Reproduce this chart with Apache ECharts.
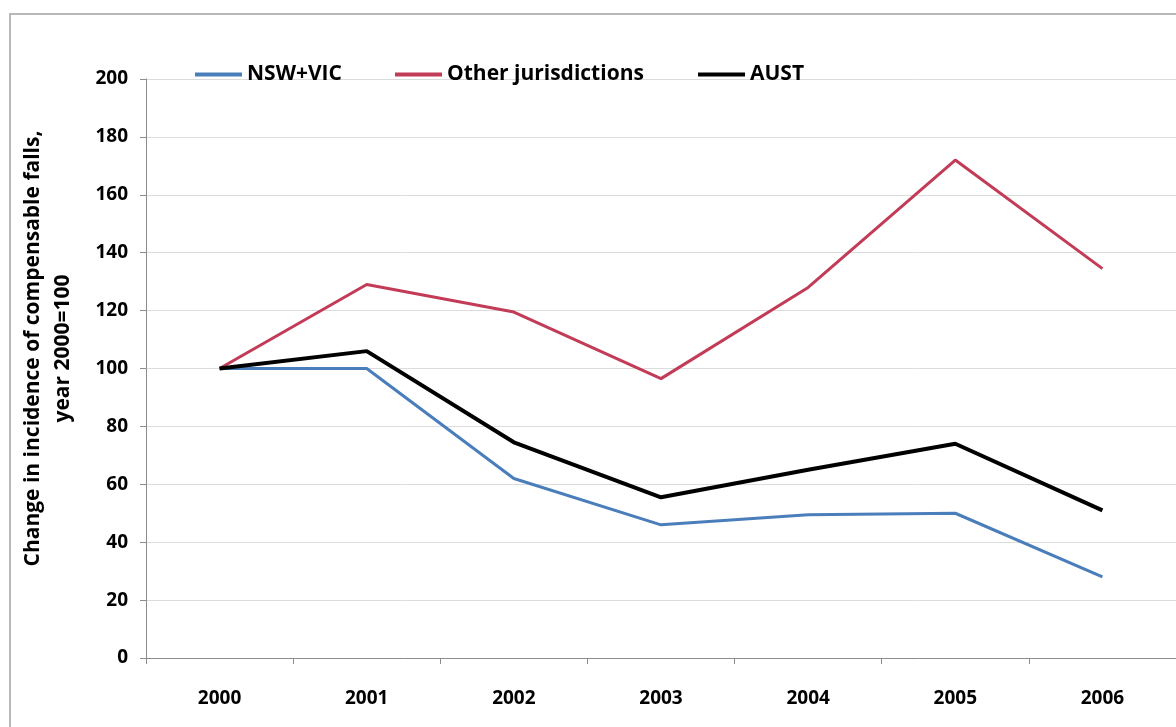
<!DOCTYPE html>
<html>
<head>
<meta charset="utf-8">
<script src="https://cdn.jsdelivr.net/npm/echarts@6/dist/echarts.min.js"></script>
<style>
  html, body { margin: 0; padding: 0; background: #fff; }
  #chart { width: 1176px; height: 727px; }
</style>
</head>
<body>
<div id="chart"></div>
<script>
// years on the x axis
var years = ["2000", "2001", "2002", "2003", "2004", "2005", "2006"];
// index values, year 2000 = 100
var nswVic = [100, 100, 62, 46, 49.5, 50, 28];
var otherJur = [100, 129, 119.5, 96.5, 128, 172, 134.5];
var aust = [100, 106, 74.5, 55.5, 65, 74, 51];

var font = "'Open Sans', Lato, sans-serif";
var boldText = {
  fontFamily: font,
  fontWeight: "bold",
  fontSize: 19,
  color: "#000"
};

function legendAt(name, left) {
  return {
    top: 59,
    left: left,
    icon: "rect",
    itemWidth: 47,
    itemHeight: 4,
    itemGap: 0,
    textStyle: Object.assign({}, boldText, { fontSize: 21 }),
    data: [name]
  };
}

var chart = echarts.init(document.getElementById("chart"));
chart.setOption({
  animation: false,
  backgroundColor: "#fff",
  textStyle: { fontFamily: font },
  graphic: [
    {
      // outer frame of the chart area
      type: "rect",
      silent: true,
      shape: { x: 10, y: 14, width: 1200, height: 760 },
      style: { fill: "none", stroke: "#b8b8b8", lineWidth: 2 }
    }
  ],
  legend: [
    legendAt("NSW+VIC", 190),
    legendAt("Other jurisdictions", 390),
    legendAt("AUST", 693)
  ],
  grid: {
    left: 146,
    top: 79,
    right: -14,
    bottom: 69
  },
  xAxis: {
    type: "category",
    data: years,
    boundaryGap: true,
    axisLine: { lineStyle: { color: "#8c8c8c", width: 1 } },
    axisTick: { show: true, length: 6, lineStyle: { color: "#8c8c8c" } },
    axisLabel: Object.assign({ margin: 31 }, boldText),
    splitLine: { show: false }
  },
  yAxis: {
    type: "value",
    min: 0,
    max: 200,
    interval: 20,
    name: "Change in incidence of compensable falls,\nyear 2000=100",
    nameLocation: "middle",
    nameGap: 68,
    nameTextStyle: {
      fontFamily: font,
      fontWeight: "bold",
      fontSize: 21,
      lineHeight: 30,
      padding: [0, 0, 0, 40],
      color: "#000"
    },
    axisLine: { show: true, lineStyle: { color: "#8c8c8c", width: 1 } },
    axisTick: { show: true, length: 6, lineStyle: { color: "#8c8c8c" } },
    axisLabel: Object.assign({ margin: 18 }, boldText),
    splitLine: { lineStyle: { color: "#dcdcdc", width: 1 } }
  },
  series: [
    {
      name: "NSW+VIC",
      type: "line",
      data: nswVic,
      symbol: "none",
      color: "#4a7ebb",
      lineStyle: { width: 3, color: "#4a7ebb" }
    },
    {
      name: "Other jurisdictions",
      type: "line",
      data: otherJur,
      symbol: "none",
      color: "#c23b57",
      lineStyle: { width: 3, color: "#c23b57" }
    },
    {
      name: "AUST",
      type: "line",
      data: aust,
      symbol: "none",
      color: "#000",
      lineStyle: { width: 4, color: "#000" }
    }
  ]
});
</script>
</body>
</html>
